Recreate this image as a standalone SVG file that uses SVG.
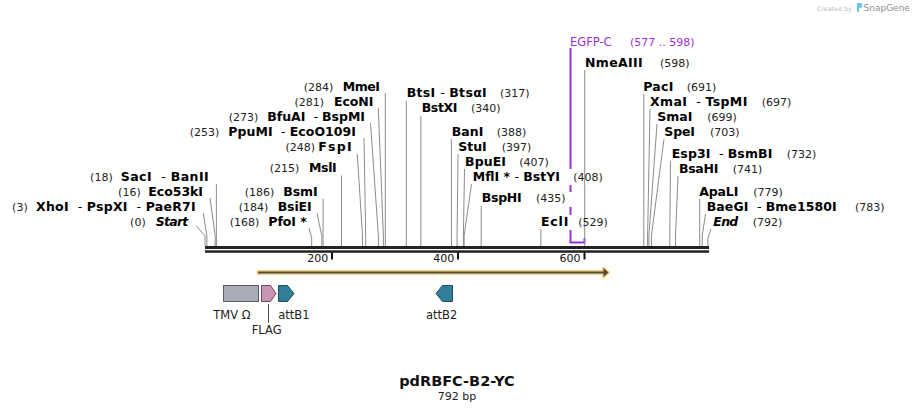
<svg xmlns="http://www.w3.org/2000/svg" width="914" height="412" viewBox="0 0 914 412">
<style>
text{white-space:pre}
.n{font-family:"DejaVu Sans",Verdana,sans-serif;font-weight:bold;font-size:12.5px;fill:#000}
.num{font-family:"DejaVu Sans",Verdana,sans-serif;font-size:11px;fill:#222}
.d{font-weight:normal}
.it{font-style:italic}
.ln{fill:none;stroke:#8c8c8c;stroke-width:1}
.lbl{font-family:"DejaVu Sans",Verdana,sans-serif;font-size:11.5px;fill:#222}
.tk{font-family:"DejaVu Sans",Verdana,sans-serif;font-size:11px;fill:#111}
.pur{fill:#9b30d9}
</style>
<rect width="914" height="412" fill="#fff"/>

<g id="watermark">
<text x="817" y="10.5" style="font-family:'DejaVu Sans',sans-serif;font-size:6.3px;fill:#bdbdbd">Created by</text>
<path d="M857,3 h3 a2.5,2.5 0 0 1 0,5 h-1 v4 h-2 z" fill="#6fc3ea"/>
<text x="863.5" y="11" style="font-family:'DejaVu Sans',sans-serif;font-size:9px;fill:#8f8f8f">SnapGene</text>
</g>

<g id="egfp-c">
<path d="M570.5,48 V242.5 H584.5 V238" fill="none" stroke="#9b30d9" stroke-width="2"/>
<rect x="566" y="169" width="9" height="16" fill="#fff"/>
<rect x="566" y="192" width="9" height="15" fill="#fff"/>
<rect x="566" y="215" width="9" height="15" fill="#fff"/>
<text class="lbl pur" x="570" y="46">EGFP-C</text>
<text class="num pur" x="630" y="46">(577 .. 598)</text>
</g>

<g id="connectors">
<polyline class="ln" points="385.3,93 385.3,246"/>
<polyline class="ln" points="378.3,108 383.4,236 383.4,246"/>
<polyline class="ln" points="370.5,123 378.4,236 378.4,246"/>
<polyline class="ln" points="364,138 365.7,236 365.7,246"/>
<polyline class="ln" points="357.3,154 362.5,236 362.5,246"/>
<polyline class="ln" points="341.5,175.5 341.5,246"/>
<polyline class="ln" points="323.1,198.5 323.1,246"/>
<polyline class="ln" points="317,213 321.8,236 321.8,246"/>
<polyline class="ln" points="309,228 311.7,238 311.7,246"/>
<polyline class="ln" points="216.4,184 216.4,246"/>
<polyline class="ln" points="210,198 215.2,236 215.2,246"/>
<polyline class="ln" points="203.3,213 206.9,236 206.9,246"/>
<polyline class="ln" points="196.5,226 205,236 205,246"/>
<polyline class="ln" points="406.3,101 406.3,246"/>
<polyline class="ln" points="420.9,116 420.9,246"/>
<polyline class="ln" points="451.4,139 451.4,246"/>
<polyline class="ln" points="458,154 457.1,236 457.1,246"/>
<polyline class="ln" points="464.5,169 463.4,236 463.4,246"/>
<polyline class="ln" points="471.5,184 464.1,236 464.1,246"/>
<polyline class="ln" points="481.2,206 481.2,246"/>
<polyline class="ln" points="540.9,229 540.9,246"/>
<polyline class="ln" points="584.7,70 584.7,246"/>
<polyline class="ln" points="643.8,94 643.8,246"/>
<polyline class="ln" points="650,109 647.6,236 647.6,246"/>
<polyline class="ln" points="657,124 648.9,236 648.9,246"/>
<polyline class="ln" points="664,139 651.4,236 651.4,246"/>
<polyline class="ln" points="670.5,161 669.8,236 669.8,246"/>
<polyline class="ln" points="678,176 675.5,236 675.5,246"/>
<polyline class="ln" points="699.7,199 699.7,246"/>
<polyline class="ln" points="705.5,214 702.2,236 702.2,246"/>
<polyline class="ln" points="711,229 707.9,238 707.9,246"/>
<line x1="268.5" y1="304" x2="268.5" y2="323" stroke="#555" stroke-width="1"/>
</g>

<g id="sites-left">
<text class="num" x="333.3" y="90.7" text-anchor="end">(284)</text><text class="n" x="380" y="90.7" text-anchor="end" textLength="37.3" lengthAdjust="spacing">MmeI</text>
<text class="num" x="324" y="105.7" text-anchor="end">(281)</text><text class="n" x="373.3" y="105.7" text-anchor="end" textLength="39.3" lengthAdjust="spacing">EcoNI</text>
<text class="num" x="258.3" y="120.7" text-anchor="end">(273)</text><text class="n" x="365" y="120.7" text-anchor="end" textLength="97.7" lengthAdjust="spacing">BfuAI <tspan class="d"> - </tspan>BspMI</text>
<text class="num" x="219.3" y="135.7" text-anchor="end">(253)</text><text class="n" x="356" y="135.7" text-anchor="end" textLength="127.7" lengthAdjust="spacing">PpuMI <tspan class="d"> - </tspan>EcoO109I</text>
<text class="num" x="315" y="150.7" text-anchor="end">(248)</text><text class="n" x="351.7" y="150.7" text-anchor="end" textLength="33.4" lengthAdjust="spacing">FspI</text>
<text class="num" x="299.3" y="172.3" text-anchor="end">(215)</text><text class="n" x="336.7" y="172.3" text-anchor="end" textLength="27.7" lengthAdjust="spacing">MslI</text>
<text class="num" x="274.3" y="195.7" text-anchor="end">(186)</text><text class="n" x="317.7" y="195.7" text-anchor="end" textLength="34.4" lengthAdjust="spacing">BsmI</text>
<text class="num" x="268.3" y="210.7" text-anchor="end">(184)</text><text class="n" x="311.7" y="210.7" text-anchor="end" textLength="34" lengthAdjust="spacing">BsiEI</text>
<text class="num" x="259.3" y="225.7" text-anchor="end">(168)</text><text class="n" x="306.7" y="225.7" text-anchor="end" textLength="38.4" lengthAdjust="spacing">PfoI *</text>
<text class="num" x="112.7" y="180.7" text-anchor="end">(18)</text><text class="n" x="208.7" y="180.7" text-anchor="end" textLength="88" lengthAdjust="spacing">SacI <tspan class="d"> - </tspan>BanII</text>
<text class="num" x="140.7" y="195.7" text-anchor="end">(16)</text><text class="n" x="203" y="195.7" text-anchor="end" textLength="54.7" lengthAdjust="spacing">Eco53kI</text>
<text class="num" x="27.7" y="210.7" text-anchor="end">(3)</text><text class="n" x="195.7" y="210.7" text-anchor="end" textLength="159.7" lengthAdjust="spacing">XhoI <tspan class="d"> - </tspan>PspXI <tspan class="d"> - </tspan>PaeR7I</text>
<text class="num" x="145.7" y="225.7" text-anchor="end">(0)</text><text class="n it" x="188.3" y="225.7" text-anchor="end" textLength="32.6" lengthAdjust="spacing">Start</text>
</g>

<g id="sites-right">
<text class="n" x="406.7" y="97.3" textLength="80" lengthAdjust="spacing">BtsI <tspan class="d">- </tspan>BtsαI</text><text class="num" x="500" y="97.3">(317)</text>
<text class="n" x="421.7" y="112.3" textLength="35.7" lengthAdjust="spacing">BstXI</text><text class="num" x="471" y="112.3">(340)</text>
<text class="n" x="451.7" y="135.7" textLength="31.7" lengthAdjust="spacing">BanI</text><text class="num" x="496.7" y="135.7">(388)</text>
<text class="n" x="458.3" y="150.7" textLength="28.3" lengthAdjust="spacing">StuI</text><text class="num" x="501.7" y="150.7">(397)</text>
<text class="n" x="465" y="165.7" textLength="41" lengthAdjust="spacing">BpuEI</text><text class="num" x="519.3" y="165.7">(407)</text>
<text class="n" x="472.7" y="180.7" textLength="87.3" lengthAdjust="spacing">MflI * <tspan class="d">- </tspan>BstYI</text><text class="num" x="573.3" y="180.7">(408)</text>
<text class="n" x="481.7" y="202.3" textLength="40" lengthAdjust="spacing">BspHI</text><text class="num" x="536" y="202.3">(435)</text>
<text class="n" x="541" y="225.7" textLength="27.3" lengthAdjust="spacing">EclI</text><text class="num" x="578.3" y="225.7">(529)</text>
<text class="n" x="585" y="67.3" textLength="57.7" lengthAdjust="spacing">NmeAIII</text><text class="num" x="660" y="67.3">(598)</text>
<text class="n" x="643.3" y="90.7" textLength="30" lengthAdjust="spacing">PacI</text><text class="num" x="686.7" y="90.7">(691)</text>
<text class="n" x="650" y="105.7" textLength="97.3" lengthAdjust="spacing">XmaI <tspan class="d"> - </tspan>TspMI</text><text class="num" x="761.7" y="105.7">(697)</text>
<text class="n" x="657.3" y="120.7" textLength="35" lengthAdjust="spacing">SmaI</text><text class="num" x="707.3" y="120.7">(699)</text>
<text class="n" x="664.3" y="135.7" textLength="30.7" lengthAdjust="spacing">SpeI</text><text class="num" x="710" y="135.7">(703)</text>
<text class="n" x="671.7" y="157.7" textLength="100.6" lengthAdjust="spacing">Esp3I <tspan class="d"> - </tspan>BsmBI</text><text class="num" x="786.7" y="157.7">(732)</text>
<text class="n" x="679" y="172.7" textLength="39.3" lengthAdjust="spacing">BsaHI</text><text class="num" x="732.7" y="172.7">(741)</text>
<text class="n" x="699.3" y="195.7" textLength="39" lengthAdjust="spacing">ApaLI</text><text class="num" x="753.3" y="195.7">(779)</text>
<text class="n" x="706.7" y="210.7" textLength="130" lengthAdjust="spacing">BaeGI <tspan class="d"> - </tspan>Bme1580I</text><text class="num" x="855" y="210.7">(783)</text>
<text class="n it" x="713.3" y="225.7" textLength="25" lengthAdjust="spacing">End</text><text class="num" x="752.7" y="225.7">(792)</text>
</g>

<g id="backbone">
<rect x="205" y="246" width="504" height="3" fill="#222"/>
<rect x="205" y="250.3" width="504" height="2.5" fill="#222"/>
<rect x="331" y="252.5" width="2" height="7" fill="#111"/>
<rect x="457" y="252.5" width="2" height="7" fill="#111"/>
<rect x="583.5" y="252.5" width="2" height="7" fill="#111"/>
<text class="tk" x="328.3" y="262.3" text-anchor="end">200</text>
<text class="tk" x="454.3" y="262.3" text-anchor="end">400</text>
<text class="tk" x="580.5" y="262.3" text-anchor="end">600</text>
</g>

<g id="orf">
<path d="M258,271.5 H603.5 V268 L608.5,272.5 L603.5,277 V273.5 H258 Z" fill="#4f4a44" stroke="#fcd484" stroke-width="3" stroke-linejoin="round" paint-order="stroke"/>
</g>

<g id="tmv-omega">
<rect x="223.5" y="285.5" width="35" height="16" fill="#a8adb5" stroke="#5a5d63" stroke-width="1"/>
<text class="lbl" x="213.3" y="319">TMV Ω</text>
</g>
<g id="flag">
<path d="M261.5,285.5 H270.5 L276,293.5 L270.5,301.5 H261.5 Z" fill="#c996b5" stroke="#6e4a60" stroke-width="1"/>
<text class="lbl" x="251.7" y="334.3">FLAG</text>
</g>
<g id="attB1">
<path d="M278.5,285.5 H287.5 L294,293.5 L287.5,301.5 H278.5 Z" fill="#317f9b" stroke="#1f4f60" stroke-width="1"/>
<text class="lbl" x="278.3" y="319">attB1</text>
</g>
<g id="attB2">
<path d="M452.5,285.5 H442.5 L436,293.5 L442.5,301.5 H452.5 Z" fill="#317f9b" stroke="#1f4f60" stroke-width="1"/>
<text class="lbl" x="426" y="319">attB2</text>
</g>

<g id="title">
<text x="457" y="385.7" text-anchor="middle" style="font-family:'DejaVu Sans',Verdana,sans-serif;font-weight:bold;font-size:14.5px;fill:#111">pdRBFC-B2-YC</text>
<text x="457" y="399.5" text-anchor="middle" style="font-family:'DejaVu Sans',Verdana,sans-serif;font-size:11px;fill:#222">792 bp</text>
</g>
</svg>
